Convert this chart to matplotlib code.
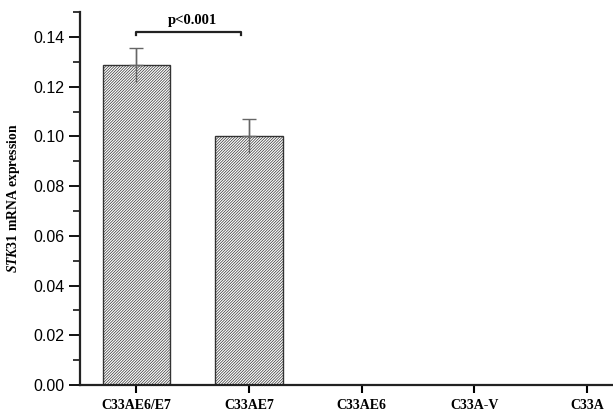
import matplotlib.pyplot as plt
import numpy as np
from matplotlib.ticker import MultipleLocator

plt.rcParams['hatch.linewidth'] = 0.5
plt.rcParams['hatch.color'] = '#555555'
plt.rcParams['mathtext.fontset'] = 'custom'
plt.rcParams['mathtext.it'] = 'Liberation Serif:italic:bold'
plt.rcParams['mathtext.rm'] = 'Liberation Serif:bold'

# data
cells = ['C33AE6/E7', 'C33AE7', 'C33AE6', 'C33A-V', 'C33A']
expression = [0.1287, 0.1001, 0.0, 0.0, 0.0]
errors = [0.0070, 0.0068, 0.0, 0.0, 0.0]

fig = plt.figure(figsize=(6.13, 4.18), dpi=100)
ax = fig.add_axes([0.1305, 0.079, 0.8695, 0.892])

x = np.arange(len(cells))
bars_x = x[:2]
ax.bar(bars_x, expression[:2], width=0.6, color='white', edgecolor='#333333',
       linewidth=1.0, hatch='/' * 12, zorder=2)

# error bars: line through bar top, cap on upper end only
ax.errorbar(bars_x, expression[:2], yerr=errors[:2], fmt='none',
            ecolor='#666666', elinewidth=1.0, capsize=0, zorder=3)
ax.errorbar(bars_x, expression[:2], yerr=[[0, 0], errors[:2]], fmt='none',
            ecolor='#666666', elinewidth=1.0, capsize=5, capthick=1.0, zorder=3)

# significance bracket
y_br = 0.1420
ax.plot([0, 0, 0.93, 0.93], [y_br - 0.0012, y_br, y_br, y_br - 0.0012],
        color='#222222', lw=1.6, clip_on=False)
ax.text(0.5, y_br + 0.0022, 'p<0.001', ha='center', va='bottom',
        family='Liberation Serif', fontweight='bold', fontsize=10.5)

ax.set_xlim(-0.5, 4.23)
ax.set_ylim(0, 0.15)

ax.set_xticks(x)
ax.set_xticklabels(cells, family='Liberation Serif', fontweight='bold', fontsize=10)
ax.yaxis.set_minor_locator(MultipleLocator(0.01))
yt = np.arange(0, 0.15, 0.02)
ax.set_yticks(yt)
ax.set_yticklabels([f'{v:.2f}' for v in yt], family='Liberation Sans', fontsize=11.5)

ax.tick_params(axis='y', which='major', length=8, width=1.3, direction='out', pad=3)
ax.tick_params(axis='y', which='minor', length=5, width=1.1, direction='out')
ax.tick_params(axis='x', which='major', length=6, width=1.5, direction='out', pad=4)

for side in ['top', 'right']:
    ax.spines[side].set_visible(False)
for side in ['left', 'bottom']:
    ax.spines[side].set_linewidth(1.6)
    ax.spines[side].set_color('#222222')

ax.set_ylabel(r'$\mathit{STK31}$ mRNA expression', family='Liberation Serif',
              fontweight='bold', fontsize=9.8, labelpad=8)

fig.savefig('out.png', dpi=100)
